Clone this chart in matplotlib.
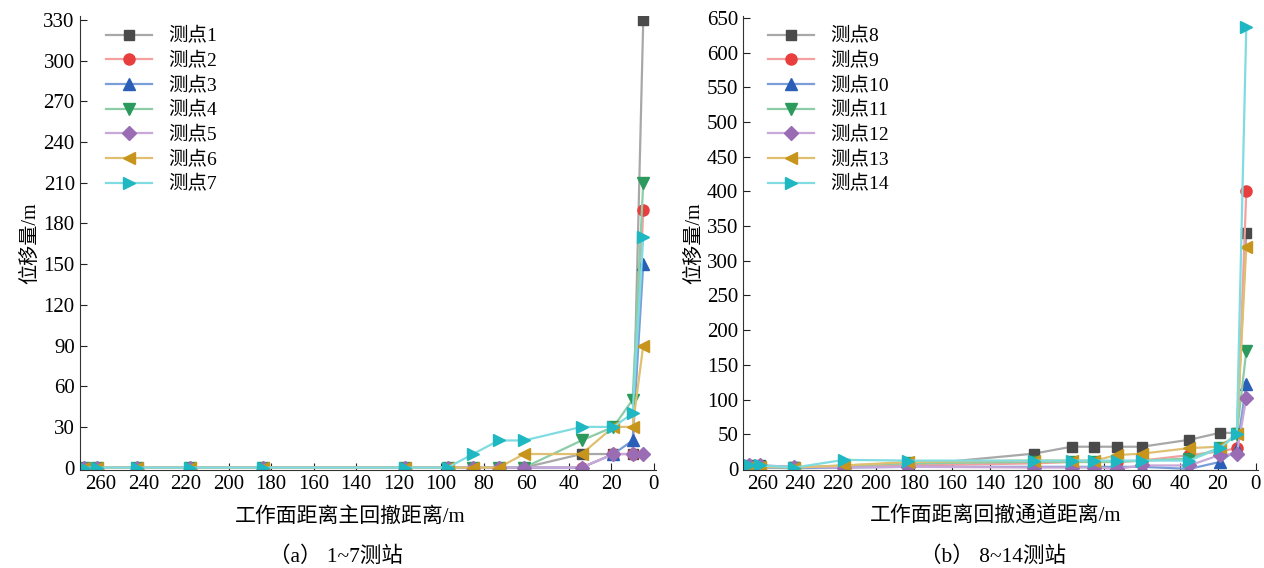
# 位移量 vs 工作面距离, two panels

import numpy as np
import matplotlib
matplotlib.use('Agg')
import matplotlib.pyplot as plt

plt.rcParams['font.family'] = ['Liberation Serif', 'Noto Sans CJK SC']
plt.rcParams['axes.unicode_minus'] = False

# DATA

# panel (a): measuring points 1-7
dist_a = [268, 262, 243, 218, 184, 117, 97, 85, 73, 61, 34, 19, 10, 5]
disp_a = {
    '测点1': [0, 0, 0, 0, 0, 0, 0, 0, 0, 0, 10, 10, 10, 330],
    '测点2': [0, 0, 0, 0, 0, 0, 0, 0, 0, 0, 0, 10, 10, 190],
    '测点3': [0, 0, 0, 0, 0, 0, 0, 0, 0, 0, 0, 10, 20, 150],
    '测点4': [0, 0, 0, 0, 0, 0, 0, 0, 0, 0, 20, 30, 50, 210],
    '测点5': [0, 0, 0, 0, 0, 0, 0, 0, 0, 0, 0, 10, 10, 10],
    '测点6': [0, 0, 0, 0, 0, 0, 0, 0, 0, 10, 10, 30, 30, 90],
    '测点7': [0, 0, 0, 0, 0, 0, 0, 10, 20, 20, 30, 30, 40, 170],
}

# panel (b): measuring points 8-14
dist_b = [267, 261, 243, 217, 183, 117, 97, 85, 73, 60, 35, 19, 10, 5]
disp_b = {
    '测点8': [5, 5, 3, 3, 5, 22, 32, 32, 32, 32, 42, 52, 52, 340],
    '测点9': [3, 3, 2, 3, 5, 8, 10, 10, 10, 12, 20, 25, 30, 400],
    '测点10': [2, 2, 1, 2, 3, 3, 3, 3, 3, 3, 0, 10, 28, 122],
    '测点11': [3, 3, 2, 5, 8, 10, 10, 10, 10, 12, 15, 30, 50, 170],
    '测点12': [5, 5, 3, 2, 3, 2, 2, 2, 0, 5, 5, 20, 22, 102],
    '测点13': [3, 3, 2, 5, 10, 12, 12, 12, 20, 22, 30, 32, 50, 320],
    '测点14': [5, 5, 2, 13, 12, 12, 12, 12, 12, 12, 12, 30, 50, 637],
}

markers = ['s', 'o', '^', 'v', 'D', '<', '>']
mcolors = ['#4a4a4a', '#e83e3e', '#2a5fb8', '#2c9a5c', '#9a6cb4', '#c8951c', '#1fb8c2']
lcolors = ['#a8a8a8', '#f4a0a0', '#7a9ed8', '#8ccca6', '#c8a8d8', '#e0c070', '#80dce0']
msizes = [7, 8, 8, 8, 7, 8, 8]


def draw(ax, dist, disp, ymax, ystep, xlabel, caption, xlab_x, cap_x):
    for i, (name, vals) in enumerate(disp.items()):
        ax.plot(dist, vals, color=lcolors[i], lw=1.6, marker=markers[i],
                ms=msizes[i], mfc=mcolors[i], mec=mcolors[i], label=name)
    ax.set_xlim(270, -1)
    ax.set_ylim(-2, ymax + 3)
    ax.set_xticks(np.arange(260, -1, -20))
    ax.set_yticks(np.arange(0, ymax + 1, ystep))
    ax.spines['top'].set_visible(False)
    ax.spines['right'].set_visible(False)
    ax.spines['left'].set_color('#333333')
    ax.spines['bottom'].set_color('#333333')
    ax.tick_params(direction='in', labelsize=15, length=5, color='#222222')
    ax.set_ylabel('位移量/m', fontsize=14.5, labelpad=2)
    ax.set_xlabel(xlabel, fontsize=15, labelpad=9, x=xlab_x)
    ax.text(cap_x, -0.19, caption, transform=ax.transAxes, ha='center',
            va='center', fontsize=15.5)
    ax.legend(loc='upper left', bbox_to_anchor=(0.025, 1.0), frameon=False,
              fontsize=14, handlelength=2.4, labelspacing=0.34,
              handletextpad=0.8, borderaxespad=0.2)


fig = plt.figure(figsize=(12.64, 5.68), dpi=100)
ax1 = fig.add_axes([0.063, 0.172, 0.456, 0.80])
ax2 = fig.add_axes([0.588, 0.172, 0.407, 0.80])

draw(ax1, dist_a, disp_a, 330, 30, '工作面距离主回撤距离/m', '（a） 1~7测站', 0.47, 0.445)
draw(ax2, dist_b, disp_b, 650, 50, '工作面距离回撤通道距离/m', '（b） 8~14测站', 0.49, 0.485)

fig.savefig('out.png', dpi=100)
